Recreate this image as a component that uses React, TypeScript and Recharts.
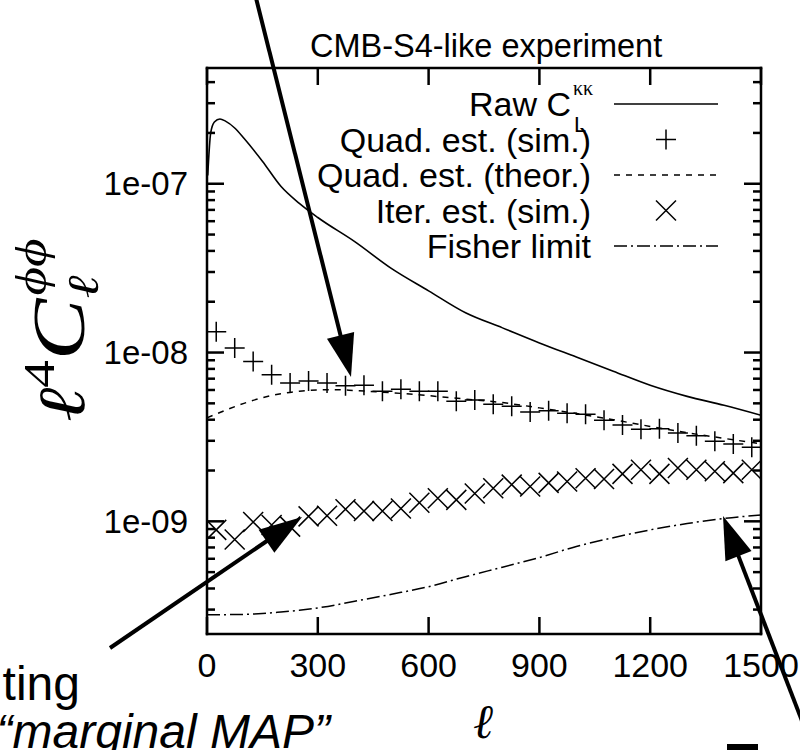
import React from 'react';
import { ComposedChart, Line, Scatter, XAxis, YAxis } from 'recharts';

// raw lensing spectrum (solid line)
const RAW_ELL = [2, 10, 20, 35, 50, 75, 100, 150, 200, 250, 300, 400, 500, 600, 700, 800, 900, 1000, 1100, 1200, 1300, 1400, 1500];
const RAW_VAL = [
  1.12e-7, 2.0e-7, 2.32e-7, 2.42e-7, 2.35e-7, 2.14e-7, 1.86e-7, 1.36e-7, 9.66e-8, 7.65e-8, 6.31e-8, 4.54e-8,
  3.14e-8, 2.32e-8, 1.72e-8, 1.4e-8, 1.14e-8, 9.4e-9, 7.75e-9, 6.4e-9, 5.5e-9, 4.87e-9, 4.25e-9,
];

// band centres used by both simulated estimators
const BIN_ELL = [
  25, 75, 125, 175, 225, 275, 325, 375, 425, 475, 525, 575, 625, 675, 725,
  775, 825, 875, 925, 975, 1025, 1075, 1125, 1175, 1225, 1275, 1325, 1375, 1425, 1475,
];
const QUAD_SIM = [
  1.33e-8, 1.065e-8, 8.84e-9, 7.38e-9, 6.6e-9, 6.79e-9, 6.6e-9, 6.35e-9, 6.4e-9, 5.9e-9, 6.07e-9, 5.9e-9, 5.9e-9, 5.15e-9, 5.24e-9,
  4.94e-9, 4.8e-9, 4.45e-9, 4.52e-9, 4.37e-9, 4.31e-9, 3.97e-9, 3.72e-9, 3.51e-9, 3.54e-9, 3.34e-9, 3.21e-9, 2.98e-9, 2.87e-9, 2.75e-9,
];
const ITER_SIM = [
  8.9e-10, 7.8e-10, 9.9e-10, 9.5e-10, 9.3e-10, 1.07e-9, 1.08e-9, 1.18e-9, 1.15e-9, 1.15e-9, 1.19e-9, 1.29e-9, 1.37e-9, 1.34e-9, 1.46e-9,
  1.57e-9, 1.65e-9, 1.61e-9, 1.69e-9, 1.72e-9, 1.8e-9, 1.78e-9, 1.91e-9, 2.02e-9, 1.91e-9, 2.07e-9, 2.02e-9, 1.98e-9, 1.93e-9, 2.02e-9,
];

// smooth curves
const CURVE_ELL = [0, 50, 100, 150, 200, 250, 300, 350, 400, 500, 600, 700, 800, 900, 1000, 1100, 1200, 1300, 1400, 1500];
const QUAD_THEOR = [
  4.1e-9, 4.55e-9, 5.0e-9, 5.4e-9, 5.7e-9, 5.9e-9, 6.0e-9, 6.02e-9, 5.95e-9, 5.78e-9,
  5.55e-9, 5.3e-9, 5.05e-9, 4.7e-9, 4.35e-9, 4.0e-9, 3.65e-9, 3.35e-9, 3.1e-9, 2.88e-9,
];
const FISHER = [
  2.8e-10, 2.8e-10, 2.81e-10, 2.84e-10, 2.9e-10, 2.97e-10, 3.07e-10, 3.2e-10, 3.36e-10, 3.7e-10,
  4.1e-10, 4.7e-10, 5.35e-10, 6.1e-10, 7.1e-10, 8.0e-10, 8.9e-10, 9.7e-10, 1.04e-9, 1.09e-9,
];

const X_TICKS = [0, 300, 600, 900, 1200, 1500];
const Y_MAJOR = [1e-9, 1e-8, 1e-7];
const Y_LABELS = ['1e-09', '1e-08', '1e-07'];
const Y_TICKS = [
  3e-10, 4e-10, 5e-10, 6e-10, 7e-10, 8e-10, 9e-10, 1e-9,
  2e-9, 3e-9, 4e-9, 5e-9, 6e-9, 7e-9, 8e-9, 9e-9, 1e-8,
  2e-8, 3e-8, 4e-8, 5e-8, 6e-8, 7e-8, 8e-8, 9e-8, 1e-7,
  2e-7, 3e-7, 4e-7,
];

const LEGEND = ['Quad. est. (sim.)', 'Quad. est. (theor.)', 'Iter. est. (sim.)', 'Fisher limit'];

const SANS = 'Liberation Sans, Arial, sans-serif';
const SERIF = 'Liberation Serif, DejaVu Serif, serif';

const zip = (xs: number[], ys: number[]) => xs.map((ell, i) => ({ ell, v: ys[i] }));
const rawData = zip(RAW_ELL, RAW_VAL);
const quadData = zip(BIN_ELL, QUAD_SIM);
const iterData = zip(BIN_ELL, ITER_SIM);
const theorData = zip(CURVE_ELL, QUAD_THEOR);
const fisherData = zip(CURVE_ELL, FISHER);

const majorIndex = (v: number) => Y_MAJOR.findIndex((m) => Math.abs(m - v) / m < 1e-6);

const LeftTick = ({ x, y, payload }: any) => {
  const idx = majorIndex(payload.value);
  return (
    <g>
      <line x1={x} y1={y} x2={x + (idx >= 0 ? 17 : 8)} y2={y} stroke="#000" strokeWidth={2.5} />
      {idx >= 0 && (
        <text x={x - 19} y={y} textAnchor="end" dominantBaseline="central" fontFamily={SANS} fontSize={33} fill="#000">
          {Y_LABELS[idx]}
        </text>
      )}
    </g>
  );
};

const RightTick = ({ x, y, payload }: any) => (
  <line x1={x} y1={y} x2={x - (majorIndex(payload.value) >= 0 ? 17 : 8)} y2={y} stroke="#000" strokeWidth={2.5} />
);

const BottomTick = ({ x, y, payload }: any) => (
  <g>
    <line x1={x} y1={y} x2={x} y2={y - 17} stroke="#000" strokeWidth={2.5} />
    <text x={x} y={y + 43} textAnchor="middle" fontFamily={SANS} fontSize={34} fill="#000">
      {payload.value}
    </text>
  </g>
);

const TopTick = ({ x, y }: any) => <line x1={x} y1={y} x2={x} y2={y + 17} stroke="#000" strokeWidth={2.5} />;

const Plus = ({ cx, cy }: any) => (
  <path d={`M${cx - 10},${cy}H${cx + 10}M${cx},${cy - 10}V${cy + 10}`} stroke="#000" strokeWidth={1.5} fill="none" />
);
const Cross = ({ cx, cy }: any) => (
  <path d={`M${cx - 10},${cy - 10}L${cx + 10},${cy + 10}M${cx - 10},${cy + 10}L${cx + 10},${cy - 10}`} stroke="#000" strokeWidth={1.5} fill="none" />
);

const Arrow = ({ x1, y1, x2, y2 }: { x1: number; y1: number; x2: number; y2: number }) => {
  const len = Math.hypot(x2 - x1, y2 - y1);
  const ux = (x2 - x1) / len;
  const uy = (y2 - y1) / len;
  const bx = x2 - ux * 43;
  const by = y2 - uy * 43;
  return (
    <g>
      <line x1={x1} y1={y1} x2={bx + ux * 4} y2={by + uy * 4} stroke="#000" strokeWidth={4} />
      <polygon points={`${x2},${y2} ${bx - uy * 14},${by + ux * 14} ${bx + uy * 14},${by - ux * 14}`} fill="#000" />
    </g>
  );
};

const axisLine = { stroke: '#000', strokeWidth: 2.5, strokeLinecap: 'square' as const };

export default function App() {
  const rows = [139.5, 175, 210.5, 246];
  return (
    <div style={{ position: 'absolute', left: 0, top: 0, width: 800, height: 750, background: '#fff', overflow: 'hidden' }}>
      <ComposedChart width={800} height={750} margin={{ top: 67, right: 38, bottom: 115, left: 206 }}>
        <XAxis xAxisId={0} dataKey="ell" type="number" domain={[0, 1500]} ticks={X_TICKS} interval={0}
          allowDataOverflow height={1} tickSize={0} tickMargin={0} tickLine={false} axisLine={axisLine} tick={<BottomTick />} />
        <XAxis xAxisId="top" orientation="top" dataKey="ell" type="number" domain={[0, 1500]} ticks={X_TICKS} interval={0}
          allowDataOverflow height={1} tickSize={0} tickMargin={0} tickLine={false} axisLine={axisLine} tick={<TopTick />} />
        <YAxis yAxisId={0} type="number" scale="log" domain={[2.15e-10, 4.85e-7]} ticks={Y_TICKS} interval={0}
          allowDataOverflow width={1} tickSize={0} tickMargin={0} tickLine={false} axisLine={axisLine} tick={<LeftTick />} />
        <YAxis yAxisId="right" orientation="right" type="number" scale="log" domain={[2.15e-10, 4.85e-7]} ticks={Y_TICKS} interval={0}
          allowDataOverflow width={1} tickSize={0} tickMargin={0} tickLine={false} axisLine={axisLine} tick={<RightTick />} />
        <Line data={rawData} dataKey="v" type="monotone" stroke="#000" strokeWidth={1.6} dot={false} isAnimationActive={false} />
        <Line data={theorData} dataKey="v" type="monotone" stroke="#000" strokeWidth={1.5} strokeDasharray="6 6" dot={false} isAnimationActive={false} />
        <Line data={fisherData} dataKey="v" type="monotone" stroke="#000" strokeWidth={1.5} strokeDasharray="13 4 2 4" dot={false} isAnimationActive={false} />
        <Scatter data={quadData} dataKey="v" shape={<Plus />} isAnimationActive={false} />
        <Scatter data={iterData} dataKey="v" shape={<Cross />} isAnimationActive={false} />
      </ComposedChart>

      <svg width={800} height={750} style={{ position: 'absolute', left: 0, top: 0, pointerEvents: 'none' }}>
        <text x={310} y={57} fontFamily={SANS} fontSize={32.5} fill="#000">CMB-S4-like experiment</text>

        {/* legend */}
        <text x={571} y={116} textAnchor="end" fontFamily={SANS} fontSize={34} fill="#000">Raw C</text>
        <text x={574} y={132} fontFamily={SANS} fontSize={22} fill="#000">L</text>
        <text x={573} y={95} fontFamily={SERIF} fontSize={20} fill="#000">κκ</text>
        <line x1={614} y1={104} x2={718} y2={104} stroke="#000" strokeWidth={1.5} />
        {LEGEND.map((t, i) => (
          <text key={t} x={591} y={rows[i] + 12} textAnchor="end" fontFamily={SANS} fontSize={34} fill="#000">{t}</text>
        ))}
        <Plus cx={666} cy={rows[0]} />
        <line x1={614} y1={rows[1]} x2={718} y2={rows[1]} stroke="#000" strokeWidth={1.5} strokeDasharray="6 6" />
        <Cross cx={666} cy={rows[2]} />
        <line x1={614} y1={rows[3]} x2={718} y2={rows[3]} stroke="#000" strokeWidth={1.5} strokeDasharray="13 4 2 4" />

        {/* axis titles */}
        <g transform="translate(84,422) rotate(-90) scale(1.25,1)">
          <text fontFamily={SERIF} fontStyle="italic" fontSize={66} fill="#000">
            <tspan>ℓ</tspan>
            <tspan fontSize={44} fontStyle="normal" dy={-30}>4</tspan>
            <tspan fontSize={74} dy={30}>C</tspan>
            <tspan fontSize={44} dy={14}>ℓ</tspan>
            <tspan fontSize={44} dx={-16} dy={-52}>ϕϕ</tspan>
          </text>
        </g>
        <text x={483} y={738} textAnchor="middle" fontFamily={SERIF} fontStyle="italic" fontSize={48} fill="#000">ℓ</text>

        {/* annotations from the surrounding figure */}
        <text x={80} y={700} textAnchor="end" fontFamily={SANS} fontSize={48} fill="#000">ting</text>
        <text x={330} y={748} textAnchor="end" fontFamily={SANS} fontStyle="italic" fontSize={48} fill="#000">“marginal MAP”</text>
        <rect x={727} y={744} width={31} height={6} fill="#000" />
        <Arrow x1={256} y1={-2} x2={351} y2={377} />
        <Arrow x1={110} y1={648} x2={302} y2={517} />
        <Arrow x1={814} y1={752} x2={723} y2={516} />
      </svg>
    </div>
  );
}
